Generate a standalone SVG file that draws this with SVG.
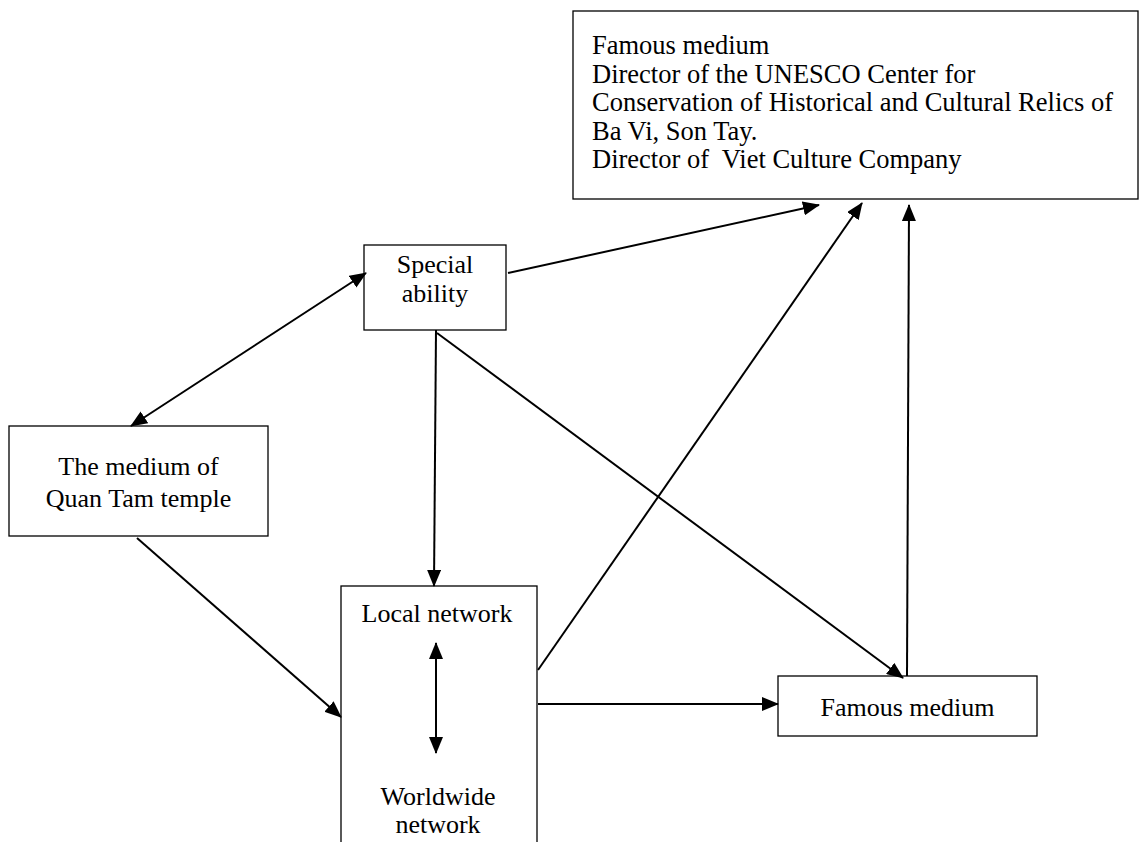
<svg xmlns="http://www.w3.org/2000/svg" width="1140" height="842" viewBox="0 0 1140 842">
<style>
.box{fill:#fff;stroke:#000;stroke-width:1.3}
.t{font-family:"Liberation Serif","Times New Roman",serif;font-size:26px;fill:#000}
.c{text-anchor:middle}
.ln{stroke:#000;stroke-width:2;fill:none}
</style>
<defs>
<marker id="ah" markerUnits="userSpaceOnUse" markerWidth="17" markerHeight="14" refX="16" refY="7" orient="auto-start-reverse" viewBox="0 0 17 14">
<path d="M0,0 L17,7 L0,14 z" fill="#000"/>
</marker>
</defs>
<rect width="1140" height="842" fill="#fff"/>
<g id="top-box">
<rect class="box" x="573" y="11" width="565" height="188"/>
<text class="t" x="592" y="54" style="font-size:26.5px">Famous medium</text>
<text class="t" x="592" y="82.5" style="font-size:26.5px">Director of the UNESCO Center for</text>
<text class="t" x="592" y="111" style="font-size:26.5px">Conservation of Historical and Cultural Relics of</text>
<text class="t" x="592" y="139.5" style="font-size:26.5px">Ba Vi, Son Tay.</text>
<text class="t" x="592" y="168" style="font-size:26.5px" xml:space="preserve">Director of  Viet Culture Company</text>
</g>
<g id="special-ability">
<rect class="box" x="364" y="245" width="142" height="85"/>
<text class="t c" x="435" y="273">Special</text>
<text class="t c" x="435" y="302">ability</text>
</g>
<g id="quan-tam">
<rect class="box" x="9" y="426" width="259" height="110"/>
<text class="t c" x="138.5" y="475">The medium of</text>
<text class="t c" x="138.5" y="507">Quan Tam temple</text>
</g>
<g id="network">
<rect class="box" x="341" y="586" width="196" height="270"/>
<text class="t c" x="437" y="622">Local network</text>
<text class="t c" x="438" y="805">Worldwide</text>
<text class="t c" x="438" y="833">network</text>
</g>
<g id="famous-medium">
<rect class="box" x="778" y="676" width="259" height="60"/>
<text class="t c" x="907.5" y="716">Famous medium</text>
</g>
<g id="connectors">
<line class="ln" x1="508" y1="273" x2="819" y2="205" marker-end="url(#ah)"/>
<line class="ln" x1="538" y1="670" x2="862" y2="203" marker-end="url(#ah)"/>
<line class="ln" x1="907" y1="676" x2="909" y2="205" marker-end="url(#ah)"/>
<line class="ln" x1="366" y1="273" x2="131" y2="426" marker-start="url(#ah)" marker-end="url(#ah)"/>
<line class="ln" x1="436" y1="330" x2="434" y2="586" marker-end="url(#ah)"/>
<line class="ln" x1="437" y1="333" x2="903" y2="678" marker-end="url(#ah)"/>
<line class="ln" x1="137" y1="538" x2="341" y2="717" marker-end="url(#ah)"/>
<line class="ln" x1="538" y1="704" x2="778" y2="704" marker-end="url(#ah)"/>
<line class="ln" x1="436" y1="643" x2="436" y2="753" marker-start="url(#ah)" marker-end="url(#ah)"/>
</g>
</svg>
